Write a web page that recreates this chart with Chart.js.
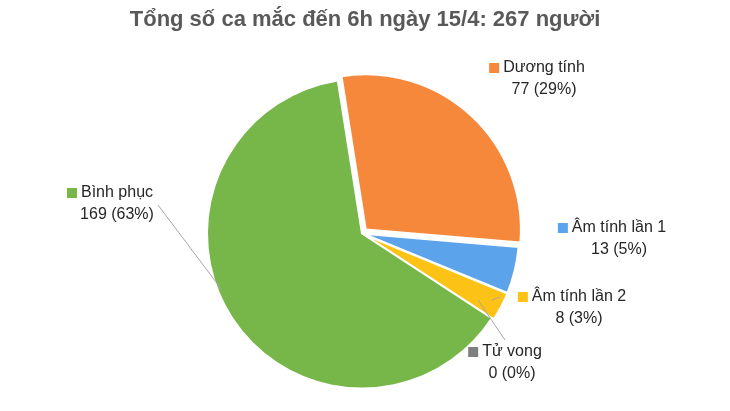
<!DOCTYPE html><html><head><meta charset="utf-8">
<script src="https://cdn.jsdelivr.net/npm/chart.js@4"></script>
<style>html,body{margin:0;background:#fff}</style></head><body>
<div style="width:730px;height:411px"><canvas id="c" width="730" height="411"></canvas></div>
<script>
const titleText = 'Tổng số ca mắc đến 6h ngày 15/4: 267 người';
const categories = ['Dương tính','Âm tính lần 1','Âm tính lần 2','Tử vong','Bình phục'];
const values = [77,13,8,0,169];
const percents = ['29%','5%','3%','0%','63%'];
const colors = ['#f5883a','#5ba3ea','#fcc215','#7f7f7f','#77b74a'];
const labelPos = [[537,68,null],[612,228,null],[572,297,[492,300]],[505,352,[478,300]],[110,193,[222,290]]];
const labelPlugin = {id:'lbl', afterDraw(ch){
  const c = ch.ctx; c.save();
  c.fillStyle='#595959'; c.font='bold 22px Arial, "Liberation Sans"'; c.textAlign='center'; c.textBaseline='middle';
  c.fillText(titleText, 365, 20);
  categories.forEach((n,i)=>{
    const [x,y,t]=labelPos[i];
    c.font='16px Arial, "Liberation Sans"'; c.textBaseline='middle';
    if(t){ c.strokeStyle='#a6a6a6'; c.lineWidth=1; c.beginPath();
      c.moveTo(i==4?158:(i==3?x:x-72), i==4?y+12:(i==3?y-12:y)); c.lineTo(t[0],t[1]); c.stroke(); }
    const w = c.measureText(n).width; const sx = x - (w+14)/2;
    c.fillStyle=colors[i]; c.fillRect(sx, y-5, 10, 10);
    c.fillStyle='#262626'; c.textAlign='left'; c.fillText(n, sx+14, y);
    c.textAlign='center'; c.fillText(values[i]+' ('+percents[i]+')', x+7, y+22);
  });
  c.restore();
}};
new Chart(document.getElementById('c'),{type:'pie',
  data:{labels:categories,datasets:[{data:values,backgroundColor:colors,borderColor:'#fff',borderWidth:2,offset:[22,5,5,0,0]}]},
  options:{responsive:false,animation:false,rotation:-9,layout:{padding:{top:66,bottom:10,left:195,right:201}},
    plugins:{legend:{display:false},tooltip:{enabled:false}}},
  plugins:[labelPlugin]});
</script></body></html>
